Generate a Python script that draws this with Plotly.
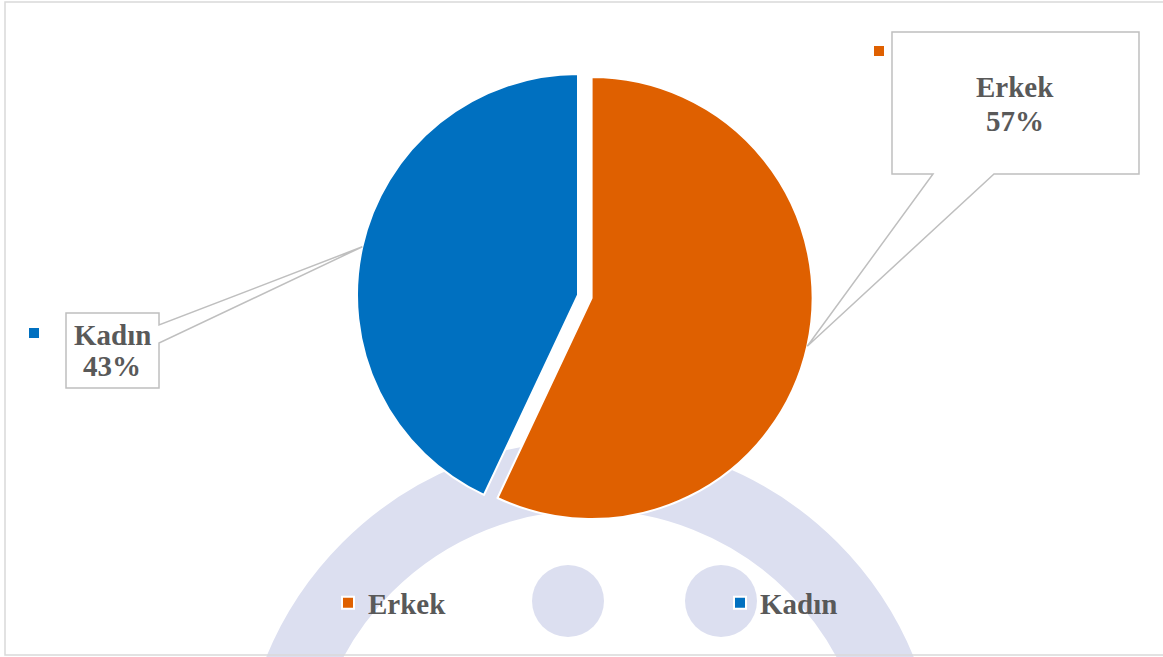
import math
import plotly.graph_objects as go

# ---- data -------------------------------------------------------------
labels = ["Erkek", "Kadın"]
values = [57, 43]
colors = ["#DF6000", "#0070C0"]

# ---- canvas / geometry (pixels) --------------------------------------
W, H = 1163, 657
PIE_CX, PIE_CY = 578, 295      # centre of the un-pulled pie
PIE_R = 221                    # slice radius
PULL = [0.063, 0.0]            # Erkek slice is exploded

TEXT = "#595959"
FONT = "Liberation Serif"
FS = 29


def px(x):
    return x / W


def py(y):
    return 1 - y / H


# domain that gives the wanted centre and radius (plotly shrinks r by 1+maxPull)
half = PIE_R * (1 + max(PULL))
dom_x = [px(PIE_CX - half), px(PIE_CX + half)]
dom_y = [py(PIE_CY + half), py(PIE_CY - half)]

fig = go.Figure(
    go.Pie(
        labels=labels,
        values=values,
        sort=False,
        direction="clockwise",
        rotation=0,
        pull=PULL,
        marker=dict(colors=colors, line=dict(color="white", width=2)),
        textinfo="none",
        hoverinfo="label+percent",
        domain=dict(x=dom_x, y=dom_y),
    )
)

shapes = []

# faint background emblem
EMB = "#DCDFF0"
ecx, ecy, er = 590, 790, 315
shapes.append(dict(type="circle", xref="paper", yref="paper", layer="below",
                   x0=px(ecx - er), x1=px(ecx + er), y0=py(ecy + er), y1=py(ecy - er),
                   line=dict(color=EMB, width=70), fillcolor="rgba(0,0,0,0)"))
for cx in (568, 721):
    r = 36
    shapes.append(dict(type="circle", xref="paper", yref="paper", layer="below",
                       x0=px(cx - r), x1=px(cx + r), y0=py(601 + r), y1=py(601 - r),
                       line=dict(width=0), fillcolor=EMB))

# chart frame
shapes.append(dict(type="rect", xref="paper", yref="paper", layer="below",
                   x0=px(5), x1=px(1170), y0=py(655), y1=py(2),
                   line=dict(color="#D9D9D9", width=1.5), fillcolor="rgba(0,0,0,0)"))

# anchor point of each label on its slice edge (slice mid-angle)
total = sum(values)
tips = []
cum = 0
for v, p in zip(values, PULL):
    mid = (cum + v / 2) / total * 2 * math.pi
    cum += v
    ux, uy = math.sin(mid), -math.cos(mid)
    cx = PIE_CX + p * PIE_R * ux
    cy = PIE_CY + p * PIE_R * uy
    tips.append((cx + PIE_R * ux, cy + PIE_R * uy))


def path(points):
    return "M " + " L ".join(f"{px(x):.5f},{py(y):.5f}" for x, y in points) + " Z"


# callout boxes
(ex, ey), (kx, ky) = tips
erkek_box = [(892, 32), (1139, 32), (1139, 174), (994, 174), (ex, ey), (933, 174), (892, 174)]
kadin_box = [(66, 313), (159, 313), (159, 325), (kx, ky), (159, 343), (159, 388), (66, 388)]
for pts in (erkek_box, kadin_box):
    shapes.append(dict(type="path", xref="paper", yref="paper", path=path(pts),
                       line=dict(color="#BFBFBF", width=1.5), fillcolor="white"))

# legend keys beside the labels
for (cx, cy, s), c in zip([(879, 51, 10), (34, 333, 10)], colors):
    shapes.append(dict(type="rect", xref="paper", yref="paper",
                       x0=px(cx - s / 2), x1=px(cx + s / 2), y0=py(cy + s / 2), y1=py(cy - s / 2),
                       line=dict(width=0), fillcolor=c))

pct = [f"{round(v / total * 100)}%" for v in values]
annotations = []
label_pos = [((1015, 87), (1015, 121)), ((112, 335), (112, 366))]
for name, pc, (p1, p2) in zip(labels, pct, label_pos):
    for txt, (x, y) in ((name, p1), (pc, p2)):
        annotations.append(dict(x=px(x), y=py(y), xref="paper", yref="paper",
                                text=txt, showarrow=False, xanchor="center", yanchor="middle",
                                font=dict(family=FONT, size=FS, color=TEXT, weight="bold")))

fig.update_layout(
    width=W, height=H,
    margin=dict(l=0, r=0, t=0, b=0, autoexpand=False),
    paper_bgcolor="white",
    plot_bgcolor="white",
    shapes=shapes,
    annotations=annotations,
    showlegend=True,
    legend=dict(
        orientation="h",
        x=px(328), xanchor="left",
        y=py(603), yanchor="middle",
        entrywidth=347, entrywidthmode="pixels",
        font=dict(family=FONT, size=FS, color=TEXT, weight="bold"),
        bgcolor="rgba(0,0,0,0)",
        itemclick=False,
    ),
)

fig.write_html("out.html")
